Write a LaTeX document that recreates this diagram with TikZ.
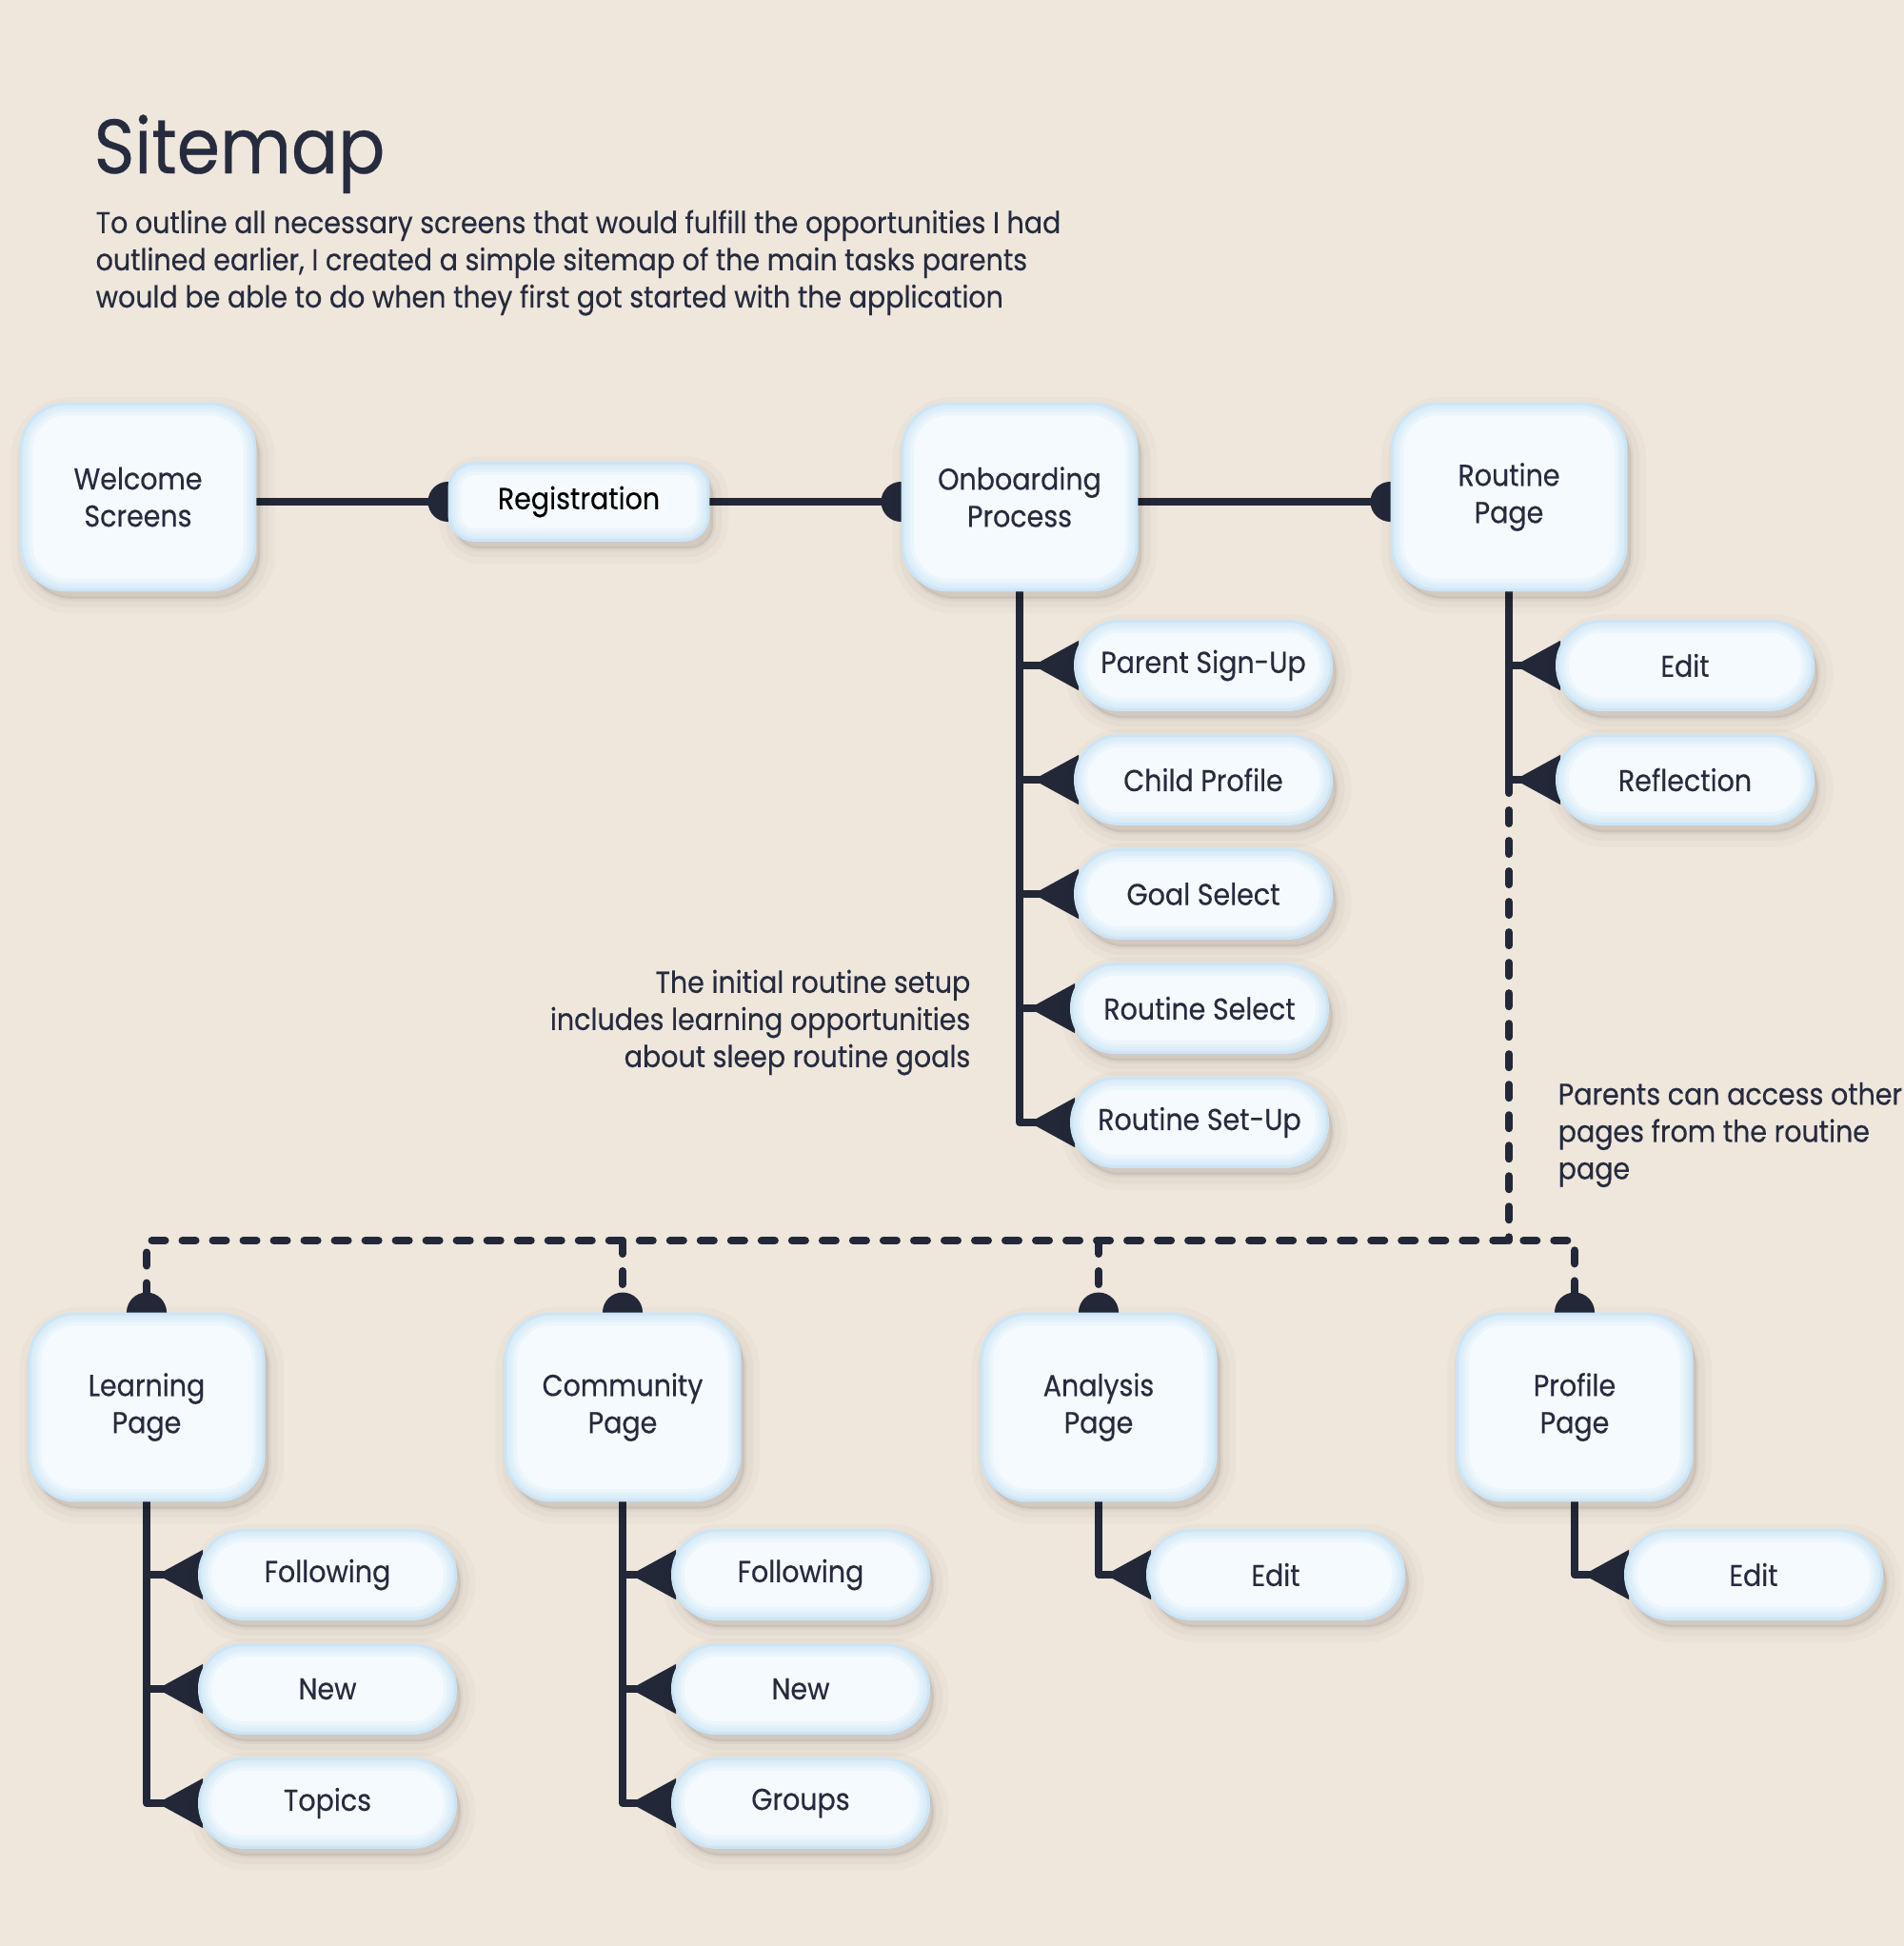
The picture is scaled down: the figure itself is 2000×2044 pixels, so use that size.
\documentclass[tikz,border=0pt]{standalone}
\usepackage{fontspec}
\setmainfont{Poppins}[FakeStretch=0.9, FakeBold=0.35]
\usetikzlibrary{arrows.meta}

\definecolor{paper}{HTML}{EFE6DC}
\definecolor{ink}{HTML}{262B3E}
\definecolor{wire}{HTML}{222838}
\definecolor{cardfill}{HTML}{F5FAFE}
\definecolor{cardedge}{HTML}{CBE5F7}

\pgfdeclarelayer{paperlayer}
\pgfdeclarelayer{wires}
\pgfsetlayers{paperlayer,wires,main}

\begin{document}
\begin{tikzpicture}[
    x=0.01cm, y=-0.01cm,
    every node/.style={text=ink, font=\fontsize{9}{11.1}\selectfont},
    card/.style={rectangle, draw=cardedge, line width=0.8pt, fill=cardfill, align=center, rounded corners=#1,
      preaction={fill=black, draw=black, line width=9pt, opacity=0.018, transform canvas={xshift=1.5pt, yshift=-2.5pt}},
      preaction={fill=black, draw=black, line width=5pt, opacity=0.025, transform canvas={xshift=1.5pt, yshift=-2.5pt}},
      preaction={fill=black, draw=black, line width=1.5pt, opacity=0.03, transform canvas={xshift=1.5pt, yshift=-2.5pt}},
      path picture={
        \foreach \w in {7pt,5pt,3.5pt,2pt,1pt}
          \draw[cardedge, line width=\w, opacity=0.22, rounded corners=#1]
            (path picture bounding box.south west) rectangle (path picture bounding box.north east);
      }},
    page/.style={card=0.48cm, minimum width=2.46cm, minimum height=1.96cm},
    step_box/.style={card=0.26cm, minimum width=2.72cm, minimum height=0.81cm},
    pill/.style={card=0.46cm, minimum width=2.69cm, minimum height=0.93cm},
    note/.style={inner sep=0pt},
    link/.style={draw=wire, line width=0.08cm, line cap=round, -{Circle[length=0.42cm]}, shorten >=-0.21cm},
    branch/.style={draw=wire, line width=0.08cm, line cap=round, line join=round, -{Triangle[reversed, length=0.48cm, width=0.5cm]}, shorten >=-0.05cm},
    dashed_link/.style={draw=wire, line width=0.08cm, line cap=round, line join=round, dash pattern=on 0.14cm off 0.18cm}
  ]

    % Page background
    \begin{pgfonlayer}{paperlayer}
      \fill[paper] (0,0) rectangle (2000,2044);
    \end{pgfonlayer}
    \useasboundingbox (0,0) rectangle (2000,2044);

    % Heading
    \node[note, anchor=base west, font=\fontsize{23}{27}\selectfont] (title) at (98,182) {Sitemap};
    \node[note, anchor=north west, align=left] (intro) at (100,220) {To outline all necessary screens that would fulfill the opportunities I had\\outlined earlier, I created a simple sitemap of the main tasks parents\\would be able to do when they first got started with the application};

    % Top row - main flow
    \node[page] (welcome) at (145,522) {Welcome\\Screens};
    \node[step_box, text=black] (reg) at (608,527) {Registration};
    \node[page] (onb) at (1071,522) {Onboarding\\Process};
    \node[page] (routine) at (1585,522) {Routine\\Page};

    % Onboarding steps
    \node[pill] (psign) at (1264,699) {Parent Sign-Up};
    \node[pill] (cprof) at (1264,819) {Child Profile};
    \node[pill] (goal) at (1264,939) {Goal Select};
    \node[pill] (rsel) at (1260,1059) {Routine Select};
    \node[pill] (rset) at (1260,1179) {Routine Set-Up};

    % Routine page actions
    \node[pill] (redit) at (1770,699) {Edit};
    \node[pill] (refl) at (1770,819) {Reflection};

    % Notes
    \node[note, anchor=east, align=right] (setupnote) at (1020,1074) {The initial routine setup\\includes learning opportunities\\about sleep routine goals};
    \node[note, anchor=west, align=left] (accessnote) at (1636,1192) {Parents can access other\\pages from the routine\\page};

    % Bottom row - other pages
    \node[page] (learn) at (154,1478) {Learning\\Page};
    \node[page] (comm) at (654,1478) {Community\\Page};
    \node[page] (anal) at (1154,1478) {Analysis\\Page};
    \node[page] (prof) at (1654,1478) {Profile\\Page};

    % Sub pages
    \node[pill] (lfol) at (344,1654) {Following};
    \node[pill] (lnew) at (344,1774) {New};
    \node[pill] (ltop) at (344,1894) {Topics};
    \node[pill] (cfol) at (841,1654) {Following};
    \node[pill] (cnew) at (841,1774) {New};
    \node[pill] (cgrp) at (841,1894) {Groups};
    \node[pill] (aedit) at (1340,1654) {Edit};
    \node[pill] (pedit) at (1842,1654) {Edit};

    \coordinate (rsplit) at (routine.south |- refl.west);
    \coordinate (bus) at (800,1303);

    % Connectors
    \begin{pgfonlayer}{wires}
      \draw[link] (welcome.east |- reg) -- (reg);
      \draw[link] (reg) -- (reg -| onb.west);
      \draw[link] (onb.east |- reg) -- (routine.west |- reg);

      \draw[branch] (onb.south) |- (psign.west);
      \draw[branch] (onb.south) |- (cprof.west);
      \draw[branch] (onb.south) |- (goal.west);
      \draw[branch] (onb.south) |- (rsel.west);
      \draw[branch] (onb.south) |- (rset.west);

      \draw[branch] (routine.south) |- (redit.west);
      \draw[branch] (routine.south) |- (refl.west);

      \draw[dashed_link] (rsplit) -- (rsplit |- bus);
      \draw[dashed_link, {Circle[length=0.42cm]}-{Circle[length=0.42cm]}, shorten <=-0.21cm, shorten >=-0.21cm] (learn.north) |- (bus) -| (prof.north);
      \draw[dashed_link, -{Circle[length=0.42cm]}, shorten >=-0.21cm] (comm.north |- bus) -- (comm.north);
      \draw[dashed_link, -{Circle[length=0.42cm]}, shorten >=-0.21cm] (anal.north |- bus) -- (anal.north);

      \draw[branch] (learn.south) |- (lfol.west);
      \draw[branch] (learn.south) |- (lnew.west);
      \draw[branch] (learn.south) |- (ltop.west);
      \draw[branch] (comm.south) |- (cfol.west);
      \draw[branch] (comm.south) |- (cnew.west);
      \draw[branch] (comm.south) |- (cgrp.west);
      \draw[branch] (anal.south) |- (aedit.west);
      \draw[branch] (prof.south) |- (pedit.west);
    \end{pgfonlayer}

  \end{tikzpicture}
\end{document}
